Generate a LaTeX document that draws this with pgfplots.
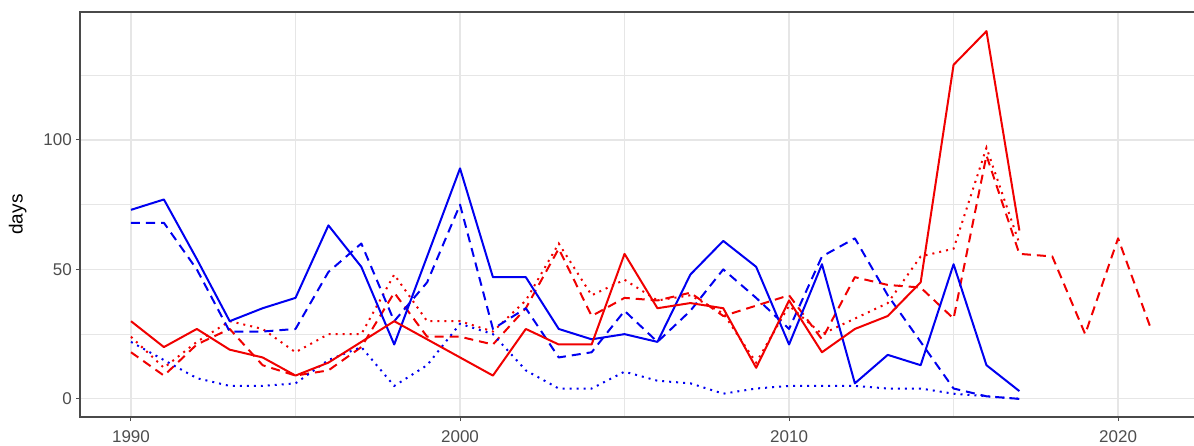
\documentclass[border=0pt]{standalone}
\usepackage{pgfplots}
\pgfplotsset{compat=1.18}
\usepackage{fontspec}
\setmainfont{Liberation Sans}

\definecolor{tickgrey}{HTML}{4D4D4D}
\definecolor{framegrey}{HTML}{4A4A4A}
\definecolor{gridgrey}{HTML}{E6E6E6}
\definecolor{lred}{HTML}{F00000}
\definecolor{lblue}{HTML}{0000F0}

\pgfplotsset{
  solidline/.style={line width=2bp, line join=round},
  dashedline/.style={line width=2bp, line join=round, dash pattern=on 9bp off 6bp},
  dottedline/.style={line width=2bp, dash pattern=on 2bp off 5bp},
}

\begin{document}
\begin{tikzpicture}
\path[use as bounding box] (0,0) rectangle (1194bp,446bp);
\begin{axis}[
  at={(80bp,29bp)}, anchor=south west,
  scale only axis, width=1122bp, height=405bp,
  xmin=1988.45, xmax=2022.55, ymin=-7, ymax=149.4,
  xtick={1990,2000,2010,2020}, xticklabels={1990,2000,2010,2020},
  ytick={0,50,100}, yticklabels={0,50,100},
  minor xtick={1995,2005,2015}, minor ytick={25,75,125},
  grid=both,
  major grid style={gridgrey, line width=1.2bp},
  minor grid style={gridgrey, line width=0.6bp},
  axis line style={framegrey, line width=1.3bp},
  tick style={tickgrey, line width=1bp},
  major tick length=4bp, minor tick length=0pt,
  tick align=outside, tick pos=left,
  x tick label style={font=\fontsize{17bp}{20bp}\selectfont, text=tickgrey, inner sep=0pt, yshift=-9bp},
  y tick label style={font=\fontsize{17bp}{20bp}\selectfont, text=tickgrey, inner sep=0pt, xshift=-4bp},
  ylabel={days},
  every axis y label/.style={at={(axis description cs:-0.0555,0.5)}, rotate=90, anchor=center,
    font=\fontsize{19bp}{22bp}\selectfont},
  clip=true,
]
% Red group
\addplot[dottedline, lred] coordinates {
 (1990,24)(1991,12)(1992,22)(1993,30)(1994,27)(1995,18)(1996,25)(1997,25)
 (1998,48)(1999,30)(2000,30)(2001,26)(2002,38)(2003,60)(2004,40)(2005,46)
 (2006,38)(2007,40)(2008,33)(2009,14)(2010,36)(2011,25)(2012,31)(2013,37)
 (2014,55)(2015,58)(2016,97)(2017,60)};
\addplot[dashedline, lred] coordinates {
 (1990,18)(1991,9)(1992,21)(1993,27)(1994,13)(1995,9)(1996,11)(1997,20)
 (1998,41)(1999,24)(2000,24)(2001,21)(2002,35)(2003,58)(2004,32)(2005,39)
 (2006,38)(2007,41)(2008,32)(2009,36)(2010,40)(2011,23)(2012,47)(2013,44)
 (2014,43)(2015,31)(2016,94)(2017,56)(2018,55)(2019,25)(2020,62)(2021,27)};
% Blue group
\addplot[dottedline, lblue] coordinates {
 (1990,22)(1991,15)(1992,8)(1993,5)(1994,5)(1995,6)(1996,15)(1997,20)
 (1998,5)(1999,13)(2000,29)(2001,25)(2002,11)(2003,4)(2004,4)(2005,10.5)
 (2006,7)(2007,6)(2008,2)(2009,4)(2010,5)(2011,5)(2012,5)(2013,4)
 (2014,4)(2015,2)(2016,1)(2017,0)};
\addplot[dashedline, lblue] coordinates {
 (1990,68)(1991,68)(1992,50)(1993,26)(1994,26)(1995,27)(1996,49)(1997,60)
 (1998,30)(1999,45)(2000,75)(2001,27)(2002,35)(2003,16)(2004,18)(2005,34)
 (2006,22)(2007,34)(2008,50)(2009,39)(2010,27)(2011,55)(2012,62)(2013,40)
 (2014,22)(2015,4)(2016,1)(2017,0)};
\addplot[solidline, lblue] coordinates {
 (1990,73)(1991,77)(1992,54)(1993,30)(1994,35)(1995,39)(1996,67)(1997,51)
 (1998,21)(1999,55)(2000,89)(2001,47)(2002,47)(2003,27)(2004,23)(2005,25)
 (2006,22)(2007,48)(2008,61)(2009,51)(2010,21)(2011,52)(2012,6)(2013,17)
 (2014,13)(2015,52)(2016,13)(2017,3)};
\addplot[solidline, lred] coordinates {
 (1990,30)(1991,20)(1992,27)(1993,19)(1994,16)(1995,9)(1996,14)(1997,22)
 (1998,30)(1999,23)(2000,16)(2001,9)(2002,27)(2003,21)(2004,21)(2005,56)
 (2006,35)(2007,37)(2008,35)(2009,12)(2010,38)(2011,18)(2012,27)(2013,32)
 (2014,45)(2015,129)(2016,142)(2017,65)};
\end{axis}
\end{tikzpicture}
\end{document}
